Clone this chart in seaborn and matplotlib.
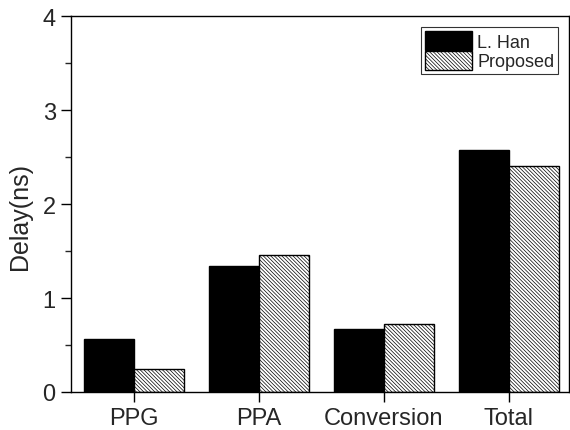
import matplotlib
matplotlib.use("Agg")
import matplotlib.pyplot as plt
import seaborn as sns
import pandas as pd
from matplotlib.ticker import MultipleLocator
from matplotlib.patches import Patch

categories = ["PPG", "PPA", "Conversion", "Total"]
series_names = ["L. Han", "Proposed"]
han = [0.56, 1.34, 0.67, 2.57]
proposed = [0.24, 1.455, 0.725, 2.405]

df = pd.DataFrame({
    "cat": categories * 2,
    "series": [series_names[0]] * 4 + [series_names[1]] * 4,
    "val": han + proposed,
})

sns.set_theme(style="ticks")
plt.rcParams["font.family"] = ["Liberation Sans", "DejaVu Sans"]
plt.rcParams["hatch.linewidth"] = 0.5
plt.rcParams["hatch.color"] = "#333333"

HATCH = "\\" * 9

fig = plt.figure(figsize=(5.70, 4.31), dpi=100)
ax = fig.add_axes([71/570, 1-393/431, (569-71)/570, (393-17)/431])

sns.barplot(data=df, x="cat", y="val", hue="series", order=categories,
            hue_order=series_names, palette=["black", "white"],
            edgecolor="black", linewidth=1.0, saturation=1, width=0.8,
            ax=ax, legend=False)

for bar in ax.containers[1]:
    bar.set_hatch(HATCH)
    bar.set_facecolor("white")

ax.set_xlim(-0.5, 3.48)
ax.set_ylim(0, 4)
ax.yaxis.set_major_locator(MultipleLocator(1))
ax.yaxis.set_minor_locator(MultipleLocator(0.5))
ax.tick_params(axis="both", direction="out", labelsize=17, color="black", width=1)
ax.tick_params(axis="y", which="major", length=7, pad=4)
ax.tick_params(axis="y", which="minor", length=4, width=1)
ax.tick_params(axis="x", which="major", length=7, pad=4)
ax.set_xlabel("")
ax.set_ylabel("Delay(ns)", fontsize=18)
ax.yaxis.set_label_coords(-0.078, 0.47)
for s in ax.spines.values():
    s.set_visible(True)
    s.set_color("black")
    s.set_linewidth(1.0)

handles = [Patch(facecolor="black", edgecolor="black", label=series_names[0]),
           Patch(facecolor="white", edgecolor="black", hatch=HATCH, label=series_names[1])]
leg = ax.legend(handles=handles, loc="upper right", bbox_to_anchor=(0.978, 0.97),
                fontsize=13, frameon=True, fancybox=False, handlelength=2.6,
                handleheight=1.25, handletextpad=0.3, labelspacing=0.0,
                borderpad=0.2, borderaxespad=0.0)
leg.get_frame().set_edgecolor("black")
leg.get_frame().set_linewidth(0.8)

fig.savefig("out.png", dpi=100)
